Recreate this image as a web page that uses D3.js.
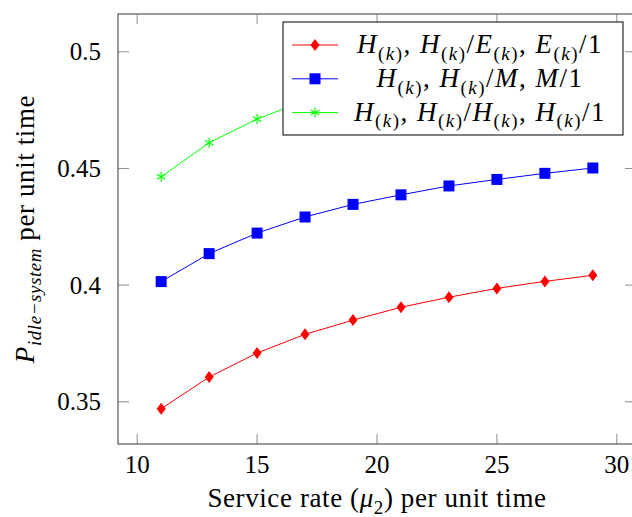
<!DOCTYPE html>
<html>
<head>
<meta charset="utf-8">
<script src="https://cdn.jsdelivr.net/npm/d3@7"></script>
<style>
body { margin: 0; background: #fff; }
svg { font-family: "Liberation Serif", "DejaVu Serif", serif; }
</style>
</head>
<body>
<svg id="chart" width="632" height="517"></svg>
<script>
// data
var rates = [11, 13, 15, 17, 19, 21, 23, 25, 27, 29];
var erlang = [0.347, 0.3606, 0.3709, 0.3789, 0.385, 0.3905, 0.3948, 0.3986, 0.4016, 0.4042];
var expo = [0.4015, 0.4135, 0.4223, 0.4292, 0.4346, 0.4387, 0.4425, 0.4453, 0.4479, 0.4502];
var hyper = [0.4464, 0.461, 0.4712, 0.479, 0.485, 0.489, 0.493, 0.496, 0.499, 0.501];
var xTicks = [10, 15, 20, 25, 30];
var yTicks = [0.35, 0.4, 0.45, 0.5];

// legend labels, as pieces: i = italic, s = subscript
var H = [{t: "H", i: 1}, {t: "(", s: 1}, {t: "k", s: 1, i: 1}, {t: ")", s: 1}];
var E = [{t: "E", i: 1}, {t: "(", s: 1}, {t: "k", s: 1, i: 1}, {t: ")", s: 1}];
var M = [{t: "M", i: 1}];
function label(a, b, c) {
    return [].concat(a, [{t: ", "}], a, [{t: "/"}], b, [{t: ", "}], c, [{t: "/1"}]);
}
var series = [
    {name: label(H, E, E), values: erlang, color: "#ff0000", marker: "diamond"},
    {name: label(H, M, M), values: expo, color: "#0000ff", marker: "square"},
    {name: label(H, H, H), values: hyper, color: "#00ff00", marker: "star"}
];

var svg = d3.select("#chart");
var frameL = 118, frameR = 636, frameT = 14, frameB = 444;

var x = d3.scaleLinear([9.2, 30.8], [frameL, frameR]);
var y = d3.scaleLinear([0.3319, 0.5162], [frameB, frameT]);

function drawMarker(g, type, color) {
    if (type == "diamond") {
        g.append("path").attr("d", "M0,-6L4.5,0L0,6L-4.5,0Z").attr("fill", color);
    } else if (type == "square") {
        g.append("rect").attr("x", -5.5).attr("y", -5.5).attr("width", 11).attr("height", 11).attr("fill", color);
    } else {
        for (var k = 0; k < 3; k++) {
            var a = Math.PI / 2 + k * Math.PI / 3;
            g.append("line")
                .attr("x1", -5 * Math.cos(a)).attr("y1", -5 * Math.sin(a))
                .attr("x2", 5 * Math.cos(a)).attr("y2", 5 * Math.sin(a))
                .attr("stroke", color).attr("stroke-width", 1.2);
        }
    }
}

function writeMath(text, parts, size) {
    parts.forEach(function(p, j) {
        var prevSub = j > 0 && parts[j - 1].s;
        var ts = text.append("tspan").text(p.t)
            .attr("font-style", p.i ? "italic" : "normal")
            .attr("font-size", p.s ? size * 0.7 : size);
        if (p.s && !prevSub) ts.attr("dy", size * 0.25);
        if (!p.s && prevSub) ts.attr("dy", -size * 0.25);
    });
}

// lines and markers
var line = d3.line().x(function(d, i) { return x(rates[i]); }).y(function(d) { return y(d); });

series.forEach(function(s) {
    svg.append("path")
        .attr("d", line(s.values))
        .attr("fill", "none")
        .attr("stroke", s.color)
        .attr("stroke-width", 1);
    s.values.forEach(function(v, i) {
        var g = svg.append("g").attr("transform", "translate(" + x(rates[i]) + "," + y(v) + ")");
        drawMarker(g, s.marker, s.color);
    });
});

// ticks inside the frame, all four sides
var tickColor = "#8c8c8c";
xTicks.forEach(function(t) {
    svg.append("line").attr("x1", x(t)).attr("x2", x(t)).attr("y1", frameB).attr("y2", frameB - 10).attr("stroke", tickColor);
    svg.append("line").attr("x1", x(t)).attr("x2", x(t)).attr("y1", frameT).attr("y2", frameT + 10).attr("stroke", tickColor);
    svg.append("text").attr("x", x(t)).attr("y", 473).attr("text-anchor", "middle")
        .attr("font-size", 25).text(t);
});
yTicks.forEach(function(t) {
    svg.append("line").attr("x1", frameL).attr("x2", frameL + 11).attr("y1", y(t)).attr("y2", y(t)).attr("stroke", tickColor);
    svg.append("line").attr("x1", frameR).attr("x2", frameR - 11).attr("y1", y(t)).attr("y2", y(t)).attr("stroke", tickColor);
    svg.append("text").attr("x", 101).attr("y", y(t) + 8.5).attr("text-anchor", "end")
        .attr("font-size", 25).text(d3.format("~g")(t));
});

svg.append("rect")
    .attr("x", frameL).attr("y", frameT)
    .attr("width", frameR - frameL).attr("height", frameB - frameT)
    .attr("fill", "none").attr("stroke", "#555").attr("stroke-width", 1.2);

// axis labels
var xl = svg.append("text").attr("x", 377).attr("y", 507).attr("text-anchor", "middle")
    .attr("letter-spacing", 0.6);
writeMath(xl, [{t: "Service rate ("}, {t: "μ", i: 1}, {t: "2", s: 1}, {t: ") per unit time"}], 27);

var yl = svg.append("text").attr("transform", "translate(34,229) rotate(-90)").attr("text-anchor", "middle")
    .attr("letter-spacing", 0.6);
writeMath(yl, [{t: "P", i: 1}, {t: "idle−system", s: 1, i: 1}, {t: " per unit time"}], 27);

// legend
var legend = svg.append("g");
legend.append("rect")
    .attr("x", 283).attr("y", 22).attr("width", 340).attr("height", 113)
    .attr("fill", "#fff").attr("stroke", "#000").attr("stroke-width", 1);
series.forEach(function(s, i) {
    var ly = 45 + i * 33.8;
    legend.append("line").attr("x1", 292).attr("x2", 338).attr("y1", ly).attr("y2", ly)
        .attr("stroke", s.color).attr("stroke-width", 1);
    drawMarker(legend.append("g").attr("transform", "translate(315," + ly + ")"), s.marker, s.color);
    var t = legend.append("text").attr("x", 480).attr("y", ly + 8).attr("text-anchor", "middle")
        .attr("letter-spacing", 1.5);
    writeMath(t, s.name, 27);
});
</script>
</body>
</html>
